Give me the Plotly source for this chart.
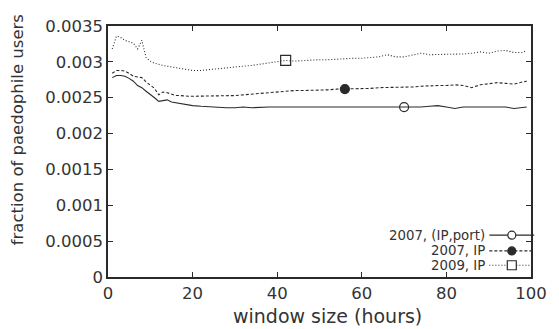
import plotly.graph_objects as go

# ---- data ----
hours = [1, 2, 3, 4, 5, 6, 7, 8, 9, 10, 11, 12, 13, 14, 15, 16, 17, 18, 19, 20,
         22, 24, 26, 28, 30, 32, 34, 36, 38, 40, 42, 44, 46, 48, 50, 52, 54, 56, 58, 60,
         62, 64, 66, 68, 70, 72, 74, 76, 78, 80, 82, 84, 86, 88, 90, 92, 94, 96, 98, 99]

ip_port_2007 = [0.00278, 0.00281, 0.00281, 0.00280, 0.00277, 0.00273, 0.00267, 0.00264, 0.00259, 0.00255,
                0.00250, 0.00245, 0.00246, 0.00247, 0.00244, 0.00243, 0.00241, 0.00240, 0.00240, 0.00239,
                0.00238, 0.00237, 0.00237, 0.00236, 0.00236, 0.00237, 0.00236, 0.00237, 0.00237, 0.00237,
                0.00237, 0.00237, 0.00236, 0.00237, 0.00237, 0.00237, 0.00236, 0.00237, 0.00237, 0.00237,
                0.00237, 0.00236, 0.00237, 0.00237, 0.00237, 0.00236, 0.00237, 0.00238, 0.00239, 0.00237,
                0.00235, 0.00237, 0.00237, 0.00237, 0.00237, 0.00236, 0.00237, 0.00235, 0.00237, 0.00237]

ip_2007 = [0.00284, 0.00288, 0.00288, 0.00287, 0.00284, 0.00280, 0.00279, 0.00278, 0.00272, 0.00268,
           0.00263, 0.00254, 0.00258, 0.00257, 0.00255, 0.00253, 0.00253, 0.00252, 0.00252, 0.00252,
           0.00252, 0.00252, 0.00252, 0.00253, 0.00253, 0.00254, 0.00255, 0.00257, 0.00257, 0.00258,
           0.00259, 0.00260, 0.00260, 0.00260, 0.00261, 0.00261, 0.00262, 0.00262, 0.00262, 0.00263,
           0.00263, 0.00264, 0.00264, 0.00265, 0.00264, 0.00265, 0.00266, 0.00267, 0.00267, 0.00267,
           0.00268, 0.00267, 0.00264, 0.00268, 0.00270, 0.00271, 0.00270, 0.00269, 0.00272, 0.00273]

ip_2009 = [0.00318, 0.00336, 0.00334, 0.00330, 0.00328, 0.00326, 0.00318, 0.00330, 0.00306, 0.00301,
           0.00298, 0.00296, 0.00295, 0.00294, 0.00293, 0.00291, 0.00290, 0.00289, 0.00288, 0.00288,
           0.00288, 0.00289, 0.00290, 0.00291, 0.00292, 0.00294, 0.00295, 0.00297, 0.00298, 0.00300,
           0.00302, 0.00301, 0.00302, 0.00302, 0.00303, 0.00303, 0.00304, 0.00304, 0.00305, 0.00305,
           0.00306, 0.00307, 0.00310, 0.00307, 0.00307, 0.00309, 0.00312, 0.00310, 0.00310, 0.00310,
           0.00311, 0.00311, 0.00312, 0.00314, 0.00312, 0.00315, 0.00316, 0.00313, 0.00313, 0.00316]

series_names = ["2007, (IP,port)", "2007, IP", "2009, IP"]
marker_hours = [70, 56, 42]

y_tickvals = [0, 0.0005, 0.001, 0.0015, 0.002, 0.0025, 0.003, 0.0035]
y_ticktext = ["0", "0.0005", "0.001", "0.0015", "0.002", "0.0025", "0.003", "0.0035"]
x_tickvals = [0, 20, 40, 60, 80, 100]

INK = "#2a2a2a"
TXT = "#333333"
FONT = "DejaVu Sans"

series = [ip_port_2007, ip_2007, ip_2009]
dashes = ["solid", "3px,2px", "1px,2px"]
msymbols = ["circle-open", "circle", "square-open"]
msizes = [9, 9, 10]

fig = go.Figure()
for vals, dash, sym, ms, mh, name in zip(series, dashes, msymbols, msizes, marker_hours, series_names):
    fig.add_trace(go.Scatter(x=hours, y=vals, mode="lines", name=name,
                             line=dict(color=INK, width=1.1, dash=dash), showlegend=False))
    i = hours.index(mh)
    fig.add_trace(go.Scatter(x=[hours[i]], y=[vals[i]], mode="markers", showlegend=False,
                             marker=dict(symbol=sym, size=ms, color=INK,
                                         line=dict(color=INK, width=1.2))))

# manual legend (text right-aligned, sample to the right)
leg_y = [0.1667, 0.1039, 0.0468]
sx0, sx1, smid = 0.9016, 1.0076, 0.9546
shapes = []
annotations = []
for name, dash, sym, ly in zip(series_names, dashes, msymbols, leg_y):
    shapes.append(dict(type="line", xref="paper", yref="paper", x0=sx0, x1=sx1, y0=ly, y1=ly,
                       line=dict(color=INK, width=1.1, dash=dash)))
    if sym.startswith("circle"):
        shapes.append(dict(type="circle", xref="paper", yref="paper", xsizemode="pixel", ysizemode="pixel",
                           xanchor=smid, yanchor=ly, x0=-4, x1=4, y0=-4, y1=4,
                           fillcolor=(INK if sym == "circle" else "white"),
                           line=dict(color=INK, width=1.2)))
    else:
        shapes.append(dict(type="rect", xref="paper", yref="paper", xsizemode="pixel", ysizemode="pixel",
                           xanchor=smid, yanchor=ly, x0=-4.5, x1=4.5, y0=-4.5, y1=4.5,
                           fillcolor="white", line=dict(color=INK, width=1.2)))
    annotations.append(dict(text=name, xref="paper", yref="paper", x=0.896, y=ly,
                            xanchor="right", yanchor="middle", showarrow=False,
                            font=dict(family=FONT, size=13.3, color=TXT)))

annotations.append(dict(text="window size (hours)", xref="paper", yref="paper", x=0.519, y=-0.157,
                        xanchor="center", yanchor="middle", showarrow=False,
                        font=dict(family=FONT, size=19, color=TXT)))
annotations.append(dict(text="fraction of paedophile users", xref="paper", yref="paper", x=-0.212, y=0.586,
                        xanchor="center", yanchor="middle", showarrow=False, textangle=-90,
                        font=dict(family=FONT, size=16.5, color=TXT)))

fig.update_layout(
    width=559, height=329,
    margin=dict(l=108, r=17, t=26, b=52),
    paper_bgcolor="white", plot_bgcolor="white",
    font=dict(family=FONT, size=16, color=TXT),
    shapes=shapes, annotations=annotations,
    showlegend=False,
)
fig.update_xaxes(range=[0, 100], tickvals=x_tickvals, ticks="inside", ticklen=5, tickwidth=1.2,
                 tickcolor=INK, showline=True, linecolor=INK, linewidth=1.5, mirror="ticks",
                 showgrid=False, zeroline=False, tickfont=dict(family=FONT, size=16.5, color=TXT))
fig.update_yaxes(range=[0, 0.0035], tickvals=y_tickvals, ticktext=y_ticktext, ticks="inside", ticklen=5,
                 tickwidth=1.2, tickcolor=INK, showline=True, linecolor=INK, linewidth=1.5, mirror="ticks",
                 showgrid=False, zeroline=False, tickfont=dict(family=FONT, size=16.5, color=TXT))

fig.write_html("out.html")
